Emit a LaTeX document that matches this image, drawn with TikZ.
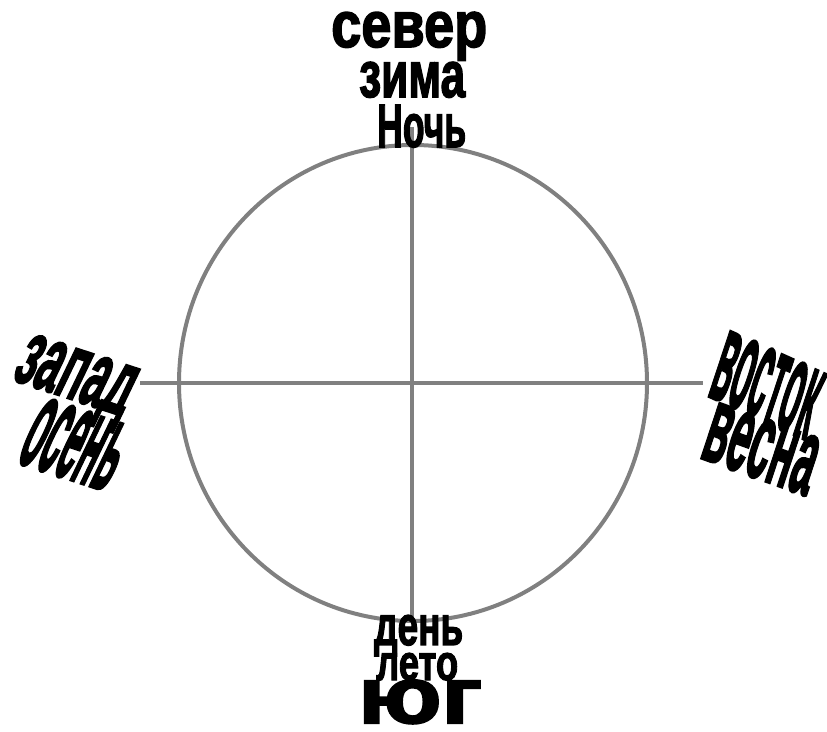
\documentclass[tikz,border=0pt]{standalone}
\usepackage{fontspec}
\setmainfont{Liberation Sans}
\newfontfamily\heavyfont{Liberation Sans Bold}[FakeBold=2.5]
\usepackage{graphicx}
\usetikzlibrary{calc}

\begin{document}
\begin{tikzpicture}[x=1pt, y=1pt,
    axis/.style={line width=4pt, draw=black!50},
    word/.style={inner sep=0pt, font=\heavyfont, text=black}]
    \useasboundingbox (0,0) rectangle (827,731);

    % 圆心和四个方向的端点
    \coordinate (O) at (413,348);
    \coordinate (N) at (412,604);
    \coordinate (S) at (412,110);
    \coordinate (W) at (140,348);
    \coordinate (E) at (703,348);

    % 圆和十字
    \draw[axis] (O) ellipse [x radius=234, y radius=238];
    \draw[axis] (N) -- (S);
    \draw[axis] (W) -- (E);

    % 上方: север, зима, Ночь
    \node[word, anchor=base west] (sever) at (331,684) {\resizebox{156pt}{35pt}{север}};
    \node[word, anchor=base west] (zima) at (359,634) {\resizebox{106pt}{35pt}{зима}};
    \node[word, anchor=base west] (noch) at (377,584) {\resizebox{89pt}{42pt}{Ночь}};

    % 下方: день, лето, юг
    \node[word, anchor=base west] (den) at (374,86) {\resizebox{89pt}{30pt}{день}};
    \node[word, anchor=base west] (leto) at (376,51) {\resizebox{82pt}{27pt}{лето}};
    \node[word, anchor=base west] (yug) at (358,8) {\resizebox{124pt}{43pt}{юг}};

    % 左边 (倾斜)
    \node[word, anchor=base west, cm={1,-0.33,0.48,1,(0,0)}] (zapad) at (10,352) {\resizebox{112pt}{46pt}{запад}};
    \node[word, anchor=base west, cm={1,-0.33,0.48,1,(0,0)}] (osen) at (14,270) {\resizebox{92pt}{64pt}{осень}};

    % 右边 (倾斜)
    \node[word, anchor=base west, cm={1,-0.45,0.33,1,(0,0)}] (vostok) at (706,336) {\resizebox{100pt}{66pt}{восток}};
    \node[word, anchor=base west, cm={1,-0.36,0.33,1,(0,0)}] (vesna) at (698,274) {\resizebox{108pt}{56pt}{весна}};
\end{tikzpicture}
\end{document}
